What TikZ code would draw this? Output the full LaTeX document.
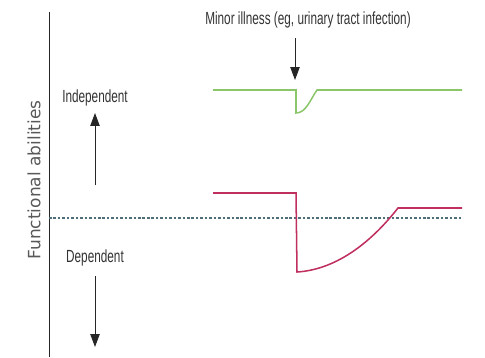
\documentclass[tikz,border=0pt]{standalone}
\usepackage{fontspec}
\setmainfont{Liberation Sans}[FakeStretch=0.67]
\newfontfamily\axisfont{DejaVu Sans}
\usetikzlibrary{arrows.meta, positioning}
\definecolor{illgreen}{HTML}{8CC66A}
\definecolor{illred}{HTML}{C0305E}
\definecolor{basegray}{HTML}{4E6E7A}

\begin{document}
\begin{tikzpicture}[x=0.03cm, y=-0.03cm,
    lbl/.style={font=\fontsize{15}{17}\selectfont, text=black!80, inner sep=1pt},
    curve/.style={draw=#1, line width=1.3pt, line join=miter},
    arr/.style={draw=black!85, line width=0.8pt, -{Triangle[width=8pt, length=11pt]}},
]
    \useasboundingbox (0,0) rectangle (485,357);

    % axis and its title
    \coordinate (ax top) at (49,12);
    \coordinate (ax bot) at (49,357);
    \draw[black!85, line width=0.8pt] (ax top) -- (ax bot);
    \node[rotate=90, font=\axisfont\fontsize{14.5}{16}\selectfont, text=black!65] (ytitle) at (34,180) {Functional abilities};

    % baseline threshold
    \coordinate (thr l) at (49,218);
    \coordinate (thr r) at (462,218);
    \draw[basegray, line width=1pt, dash pattern=on 2.2pt off 1.6pt] (thr l) -- (thr r);

    % independent / dependent
    \node[lbl] (indep) at (95,98) {Independent};
    \coordinate (up from) at (95,185);
    \coordinate (up to) at (95,113);
    \draw[arr] (up from) -- (up to);
    \node[lbl] (dep) at (95,258) {Dependent};
    \coordinate (down from) at (95,276);
    \coordinate (down to) at (95,347);
    \draw[arr] (down from) -- (down to);

    % illness event
    \node[lbl] (ill) at (308,20) {Minor illness (eg, urinary tract infection)};
    \coordinate (ill from) at (295,38);
    \coordinate (ill tip) at (295,80);
    \draw[arr] (ill from) -- (ill tip);

    % robust person
    \draw[curve=illgreen] (213,90) -- (296,90) -- (296,113)
        .. controls (306,113) and (310,100) .. (317,90) -- (462,90);

    % frail person
    \draw[curve=illred] (213,193) -- (296,193) -- (297,272)
        .. controls (330,270) and (365,250) .. (398,208) -- (462,208);
\end{tikzpicture}
\end{document}
